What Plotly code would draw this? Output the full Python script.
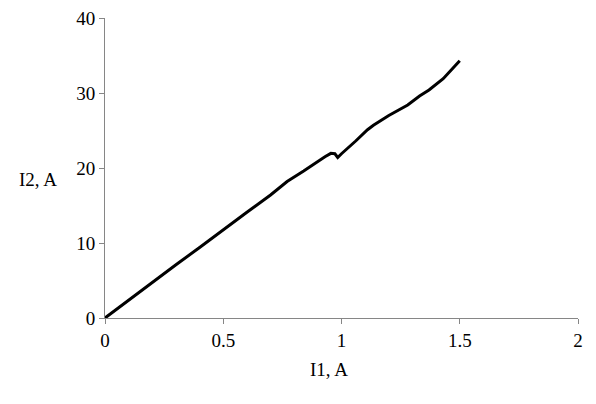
import plotly.graph_objects as go

i1 = [0, 0.1, 0.2, 0.3, 0.4, 0.5, 0.6, 0.7, 0.77, 0.84, 0.9, 0.93, 0.955, 0.972,
      0.984, 1.0, 1.06, 1.11, 1.135, 1.2, 1.28, 1.33, 1.37, 1.43, 1.5]
i2 = [0, 2.4, 4.8, 7.1, 9.4, 11.8, 14.1, 16.4, 18.2, 19.6, 20.9, 21.5, 21.95, 21.9,
      21.4, 21.9, 23.6, 25.1, 25.7, 27.0, 28.4, 29.6, 30.4, 31.9, 34.3]

x_ticks = [0, 0.5, 1, 1.5, 2]
x_tick_labels = ["0", "0.5", "1", "1.5", "2"]
y_ticks = [0, 10, 20, 30, 40]

font = dict(family="Liberation Serif", size=19, color="#000000")

fig = go.Figure()
fig.add_trace(go.Scatter(x=i1, y=i2, mode="lines",
                         line=dict(color="#000000", width=3),
                         showlegend=False))

fig.update_layout(
    width=596, height=404,
    margin=dict(l=97, r=26, t=10, b=94, autoexpand=False),
    paper_bgcolor="white", plot_bgcolor="white",
    font=font,
    xaxis=dict(range=[0, 2], tickvals=x_ticks, ticktext=x_tick_labels,
               showgrid=False, zeroline=False, showline=True,
               linecolor="#868686", linewidth=1, ticks="outside",
               ticklen=5, tickcolor="#868686", tickfont=font,
               ticklabeloverflow="allow", automargin=False),
    yaxis=dict(range=[0, 40], tickvals=y_ticks,
               showgrid=False, zeroline=False, showline=True,
               linecolor="#868686", linewidth=1, ticks="outside",
               ticklen=5, tickcolor="#868686", tickfont=font,
               ticklabeloverflow="allow", automargin=False),
    annotations=[
        dict(text="I2, A", xref="paper", yref="paper", x=-0.1416, y=0.463,
             xanchor="center", yanchor="middle", showarrow=False, font=font),
        dict(text="I1, A", xref="paper", yref="paper", x=0.4736, y=-0.17,
             xanchor="center", yanchor="middle", showarrow=False, font=font),
    ],
)

fig.write_html("out.html")
